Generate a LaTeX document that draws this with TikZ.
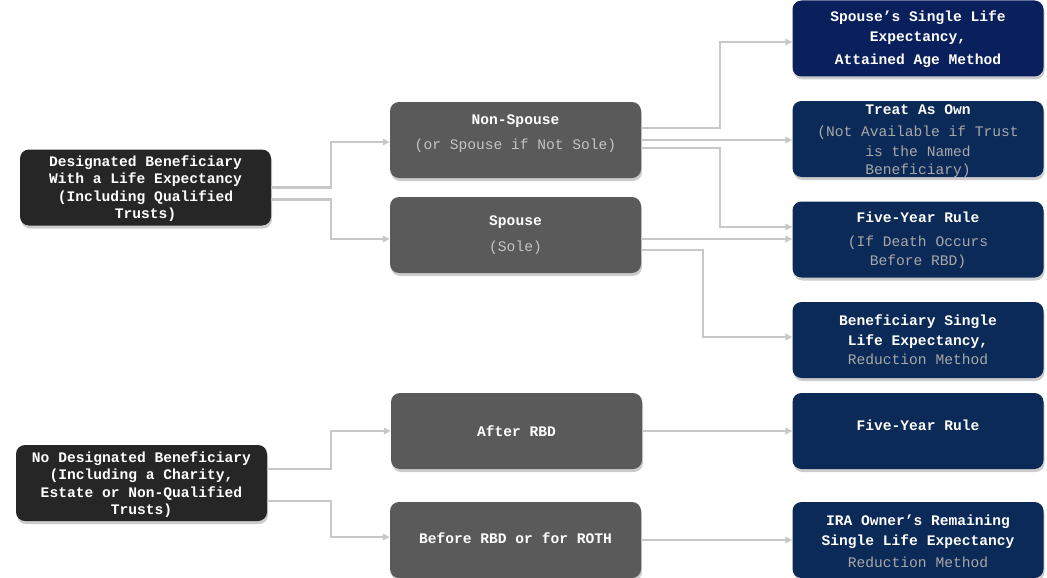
\documentclass[tikz,border=0pt]{standalone}
\usepackage{fontspec}
\setmainfont{Liberation Mono}
\usetikzlibrary{arrows.meta,shadows}
\definecolor{blackbox}{HTML}{262626}
\definecolor{greybox}{HTML}{5A5A5A}
\definecolor{navyA}{HTML}{0A205C}
\definecolor{navyB}{HTML}{0C2A57}
\definecolor{connc}{HTML}{C8C8C8}
\definecolor{subgrey}{HTML}{C4C4C4}
\definecolor{subnavy}{HTML}{A8A8A8}
\tikzset{
  boxbase/.style={rounded corners=9pt, minimum width=251pt, minimum height=76pt, inner sep=0pt,
    drop shadow={shadow xshift=1pt, shadow yshift=-3pt, opacity=0.2, fill=black}},
  bkbox/.style={boxbase, fill=blackbox},
  gybox/.style={boxbase, fill=greybox},
  nvbox/.style={boxbase, fill=navyB},
  nvboxA/.style={boxbase, fill=navyA},
  txt/.style={text=white, align=center, inner sep=0pt, font=\fontsize{14.6}{17.5}\selectfont},
  conn/.style={draw=connc, line width=2.3pt, -{Triangle[length=7pt,width=6.5pt]}}
}
\newcommand{\sgy}[1]{{\fontseries{m}\selectfont\color{subgrey}#1}}
\newcommand{\snv}[1]{{\fontseries{m}\selectfont\color{subnavy}#1}}
\begin{document}
\begin{tikzpicture}[x=1pt,y=-1pt]
\fill[white] (0,0) rectangle (1047,578);
\useasboundingbox (0,0) rectangle (1047,578);
% boxes
\node[bkbox] (d1) at (145.5,187.5) {};
\node[gybox] (ns) at (515.5,140) {};
\node[gybox] (sp) at (515.5,235) {};
\node[bkbox] (d2) at (141.5,483) {};
\node[gybox] (ar) at (516.5,431) {};
\node[gybox] (br) at (515.5,540) {};
\node[nvboxA] (r1) at (918,38.5) {};
\node[nvbox] (r2) at (918,139) {};
\node[nvbox] (r3) at (918,239.5) {};
\node[nvbox] (r4) at (918,340) {};
\node[nvbox] (r5) at (918,431) {};
\node[nvbox] (r6) at (918,540) {};
% texts
\node[txt] (d1t) at (145.5,188.7) {\bfseries Designated Beneficiary\\\bfseries With a Life Expectancy\\\bfseries (Including Qualified\\\bfseries Trusts)};
\node[txt] (d2t) at (141.5,484.5) {\bfseries No Designated Beneficiary\\\bfseries (Including a Charity,\\\bfseries Estate or Non-Qualified\\\bfseries Trusts)};
\node[txt] (nst) at (515.5,133.5) {\bfseries Non-Spouse\\[7.5pt]\sgy{(or Spouse if Not Sole)}};
\node[txt] (spt) at (515.5,235) {\bfseries Spouse\\[8.5pt]\sgy{(Sole)}};
\node[txt] (art) at (516.5,431) {\bfseries After RBD};
\node[txt] (brt) at (515.5,538) {\bfseries Before RBD or for ROTH};
\node[txt] (r1t) at (918,39) {\bfseries Spouse’s Single Life\\[2.5pt]\bfseries Expectancy,\\[5pt]\bfseries Attained Age Method};
\node[txt] (r2t) at (918,141) {\bfseries Treat As Own\\[4.5pt]\snv{(Not Available if Trust}\\[2.5pt]\snv{is the Named}\\\snv{Beneficiary)}};
\node[txt] (r3t) at (918,240) {\bfseries Five-Year Rule\\[6pt]\snv{(If Death Occurs}\\[1.5pt]\snv{Before RBD)}};
\node[txt] (r4t) at (918,339.5) {\bfseries Beneficiary Single\\[2pt]\bfseries Life Expectancy,\\[1.5pt]\snv{Reduction Method}};
\node[txt] (r5t) at (918,425) {\bfseries Five-Year Rule};
\node[txt] (r6t) at (918,541) {\bfseries IRA Owner’s Remaining\\[2.5pt]\bfseries Single Life Expectancy\\[4.5pt]\snv{Reduction Method}};
% connectors
\draw[conn] (d1.east) -- ++(60,0) |- ([yshift=-2pt]ns.west);
\draw[conn] ([yshift=-12pt]d1.east) -- ++(60,0) |- ([yshift=-4pt]sp.west);
\draw[conn] ([yshift=12pt]ns.east) -- ++(79,0) |- ([yshift=-3.5pt]r1.west);
\draw[conn] (ns.east) -- (ns.east -| r2.west);
\draw[conn] ([yshift=-8pt]ns.east) -- ++(79,0) |- ([yshift=12.5pt]r3.west);
\draw[conn] ([yshift=-4pt]sp.east) -- ([yshift=-4pt]sp.east -| r3.west);
\draw[conn] ([yshift=-15pt]sp.east) -- ++(62,0) |- ([yshift=3pt]r4.west);
\draw[conn] (ar.east) -- (ar.east -| r5.west);
\draw[conn] (br.east) -- (br.east -| r6.west);
\draw[conn] ([yshift=14pt]d2.east) -- ++(64,0) |- (ar.west);
\draw[conn] ([yshift=-18pt]d2.east) -- ++(64,0) |- ([yshift=3pt]br.west);
\end{tikzpicture}
\end{document}
